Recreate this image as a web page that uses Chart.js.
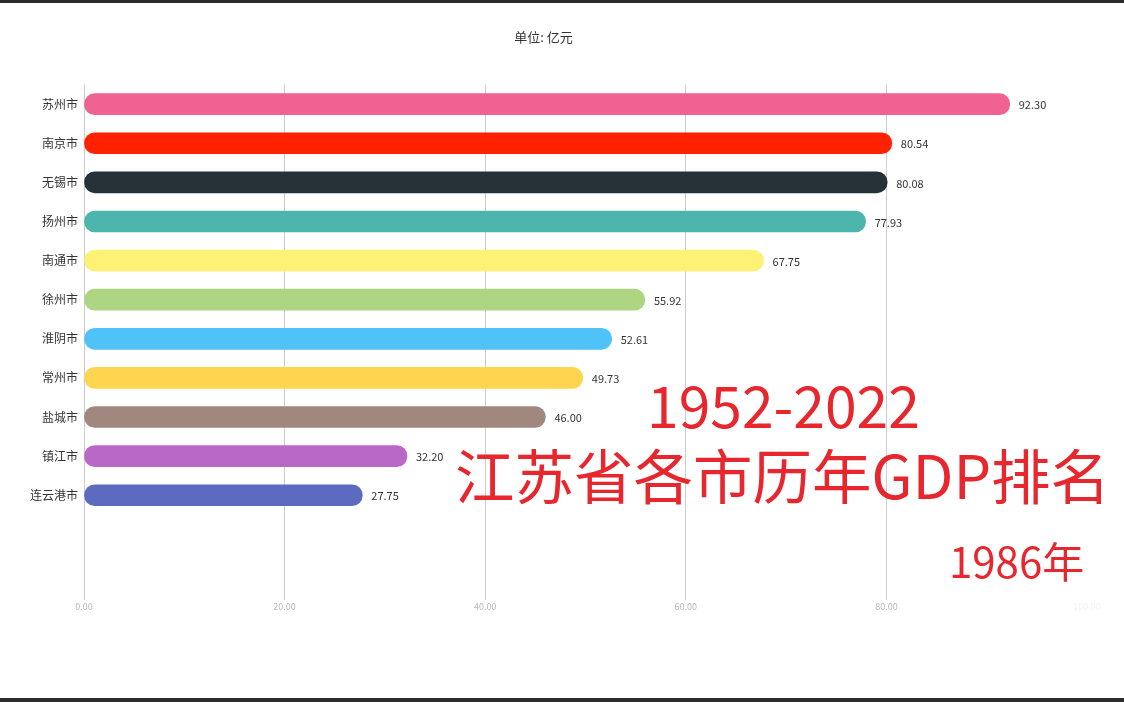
<!DOCTYPE html>
<html>
<head>
<meta charset="utf-8">
<script src="https://cdn.jsdelivr.net/npm/chart.js@4/dist/chart.umd.min.js"></script>
<style>
    html, body { margin: 0; padding: 0; background: #fff; }
    #wrap { position: relative; width: 1124px; height: 702px; overflow: hidden; }
    #chart { position: absolute; left: 0; top: 0; }
    .band { position: absolute; left: 0; width: 1124px; background: #2b2b2b; }
    .overlay {
        position: absolute;
        color: #e8262e;
        font-family: "Noto Sans CJK SC", "Noto Sans", sans-serif;
        line-height: 1;
        white-space: nowrap;
    }
</style>
</head>
<body>
<div id="wrap">
    <canvas id="chart" width="1124" height="702"></canvas>
    <div class="band" style="top:0;height:3px;"></div>
    <div class="band" style="top:698px;height:4px;"></div>
    <div class="overlay" style="left:647px;top:375px;font-size:57px;">1952-2022</div>
    <div class="overlay" style="left:455px;top:444px;font-size:59.5px;">江苏省各市历年GDP排名</div>
    <div class="overlay" style="left:949px;top:539px;font-size:42px;">1986年</div>
</div>
<script>
// 1986 GDP, 亿元
const cities = ['苏州市', '南京市', '无锡市', '扬州市', '南通市', '徐州市', '淮阴市', '常州市', '盐城市', '镇江市', '连云港市'];
const gdpValues = [92.30, 80.54, 80.08, 77.93, 67.75, 55.92, 52.61, 49.73, 46.00, 32.20, 27.75];
const barColors = ['#f06292', '#ff2200', '#263238', '#4db6ac', '#fff176', '#aed581', '#4fc3f7', '#ffd54f', '#a1887f', '#ba68c8', '#5c6bc0'];
const xTicks = [0, 20, 40, 60, 80, 100];

// two empty slots at the bottom of the race
const labels = cities.concat(['', '']);
const values = gdpValues.concat([null, null]);

const FONT = '"Noto Sans CJK SC", "Noto Sans", sans-serif';

// value text at the end of each bar
const valueLabels = {
    id: 'valueLabels',
    afterDatasetsDraw(chart) {
        const ctx = chart.ctx;
        const meta = chart.getDatasetMeta(0);
        ctx.save();
        ctx.font = '11px ' + FONT;
        ctx.fillStyle = '#333';
        ctx.textBaseline = 'middle';
        ctx.textAlign = 'left';
        meta.data.forEach((bar, i) => {
            const v = values[i];
            if (v == null) return;
            ctx.fillText(v.toFixed(2), bar.x + 9, bar.y + 1);
        });
        ctx.restore();
    }
};

new Chart(document.getElementById('chart'), {
    type: 'bar',
    data: {
        labels: labels,
        datasets: [{
            data: values,
            backgroundColor: barColors,
            borderRadius: 20,
            borderSkipped: false,
            barThickness: 21
        }]
    },
    options: {
        indexAxis: 'y',
        responsive: false,
        animation: false,
        layout: { padding: { left: 0, right: 37, top: 0, bottom: 0 } },
        plugins: {
            legend: { display: false },
            tooltip: { enabled: false },
            title: {
                display: true,
                text: '单位: 亿元',
                color: '#333',
                font: { family: FONT, size: 13, weight: 'normal' },
                padding: { top: 29, bottom: 40 }
            }
        },
        scales: {
            x: {
                min: 0,
                max: 100,
                afterBuildTicks: (scale) => {
                    scale.ticks = xTicks.map(v => ({ value: v }));
                },
                afterFit: (scale) => { scale.height = 109; },
                border: { display: false },
                grid: {
                    color: (c) => c.tick && c.tick.value === 100 ? 'rgba(0,0,0,0)' : '#cccccc',
                    tickLength: 7
                },
                ticks: {
                    padding: 1,
                    color: (c) => c.tick && c.tick.value === 100 ? '#f2f2f2' : '#b8b8b8',
                    font: { family: FONT, size: 9 },
                    callback: (v) => Number(v).toFixed(2)
                }
            },
            y: {
                afterFit: (scale) => { scale.width = 84; },
                border: { display: false },
                grid: { display: false, drawTicks: false },
                ticks: {
                    padding: 6,
                    color: '#333',
                    font: { family: FONT, size: 12 }
                }
            }
        }
    },
    plugins: [valueLabels]
});
</script>
</body>
</html>
